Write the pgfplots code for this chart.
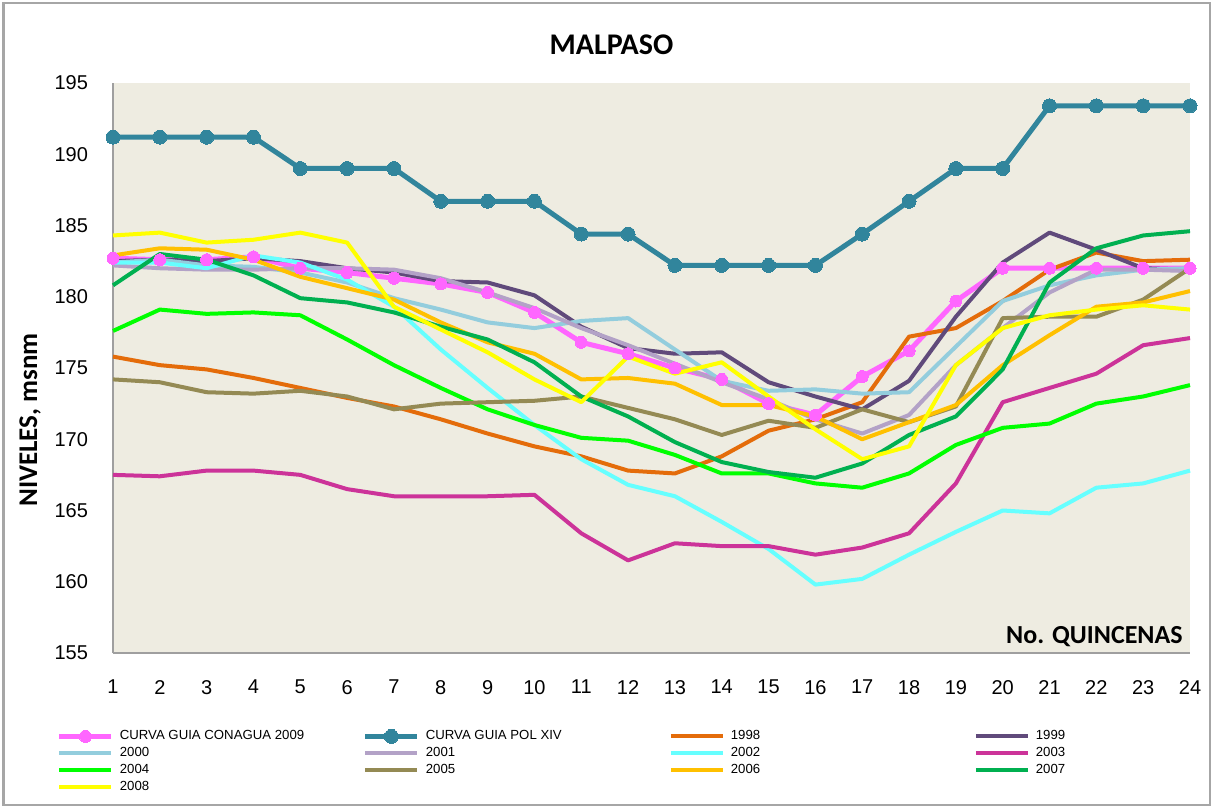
\documentclass[border=0pt]{standalone}
\usepackage{pgfplots}
\pgfplotsset{compat=1.18}
\usepackage{fontspec}
\setmainfont{Liberation Sans}
\newfontfamily\calibri{Carlito}
\definecolor{bgtan}{HTML}{EEECE1}
\definecolor{cpink}{HTML}{FF66FF}
\definecolor{cteal}{HTML}{31859C}
\definecolor{c98}{HTML}{E46C0A}
\definecolor{c99}{HTML}{604A7B}
\definecolor{c00}{HTML}{93CDDD}
\definecolor{c01}{HTML}{B3A2C7}
\definecolor{c02}{HTML}{66FFFF}
\definecolor{c03}{HTML}{CC3399}
\definecolor{c04}{HTML}{00FF00}
\definecolor{c05}{HTML}{948A54}
\definecolor{c06}{HTML}{FFC000}
\definecolor{c07}{HTML}{00B050}
\definecolor{c08}{HTML}{FFFF00}
\begin{document}
\begin{tikzpicture}
\useasboundingbox (0,0) rectangle (606.5pt,404pt);
\draw[gray!70, line width=1.2pt] (1.75pt,1.5pt) rectangle (605pt,402.5pt);
\node[font=\calibri\bfseries\fontsize{15}{18}\selectfont] at (305.75pt,381.5pt) {MALPASO};
\node[font=\calibri\bfseries\fontsize{13.5}{16}\selectfont, rotate=90] at (15pt,194pt) {NIVELES, msnm};
\begin{axis}[
  at={(56.5pt,77.5pt)}, anchor=south west,
  width=538.5pt, height=285pt, scale only axis,
  xmin=1, xmax=24, ymin=155, ymax=195,
  xtick={1,...,24}, ytick={155,160,...,195},
  axis x line*=bottom, axis y line*=left,
  axis line style={draw=gray!75, line width=0.8pt, -},
  major tick length=0pt,
  axis background/.style={fill=bgtan},
  tick label style={font=\fontsize{10}{12}\selectfont},
  /pgf/number format/assume math mode=true,
  xticklabel style={yshift=-10pt},
  yticklabel style={xshift=-9pt},
  clip=false,
  line join=round,
  every axis plot/.append style={line width=2pt},
  legend columns=4,
  legend cell align=left,
  legend style={at={(axis description cs:-0.0525,-0.1307)}, anchor=north west,
    draw=none, fill=none, inner sep=0pt, column sep=0pt,
    font=\fontsize{6.6}{7}\selectfont,
    nodes={inner sep=0pt, outer sep=0pt, minimum height=8.5pt, anchor=west},
    /tikz/every odd column/.style={column sep=3pt}},
  legend image code/.code={\draw[mark repeat=2,mark phase=2,#1] plot coordinates {(0pt,0pt) (13pt,0pt) (26pt,0pt)};},
]
\addplot[cpink, line width=2.5pt, mark=*, mark size=3pt, mark options={solid, fill=cpink, draw=cpink, line width=0pt}] coordinates {
(1,182.7)(2,182.6)(3,182.6)(4,182.8)(5,182.0)(6,181.7)(7,181.3)(8,180.9)(9,180.3)(10,178.9)(11,176.8)(12,176.0)(13,175.0)(14,174.2)(15,172.5)(16,171.7)(17,174.4)(18,176.2)(19,179.7)(20,182.0)(21,182.0)(22,182.0)(23,182.0)(24,182.0)};
\addlegendentry{\makebox[121.5pt][l]{CURVA GUIA CONAGUA 2009}}
\addplot[cteal, line width=2.5pt, mark=*, mark size=3.5pt, mark options={solid, fill=cteal, draw=cteal, line width=0pt}] coordinates {
(1,191.2)(2,191.2)(3,191.2)(4,191.2)(5,189.0)(6,189.0)(7,189.0)(8,186.7)(9,186.7)(10,186.7)(11,184.4)(12,184.4)(13,182.2)(14,182.2)(15,182.2)(16,182.2)(17,184.4)(18,186.7)(19,189.0)(20,189.0)(21,193.4)(22,193.4)(23,193.4)(24,193.4)};
\addlegendentry{\makebox[121.5pt][l]{CURVA GUIA POL XIV}}
\addplot[c98] coordinates {
(1,175.8)(2,175.2)(3,174.9)(4,174.3)(5,173.6)(6,172.9)(7,172.3)(8,171.4)(9,170.4)(10,169.5)(11,168.8)(12,167.8)(13,167.6)(14,168.8)(15,170.6)(16,171.4)(17,172.6)(18,177.2)(19,177.8)(20,179.7)(21,181.9)(22,183.1)(23,182.5)(24,182.6)};
\addlegendentry{\makebox[121.5pt][l]{1998}}
\addplot[c99] coordinates {
(1,182.5)(2,182.6)(3,182.5)(4,182.7)(5,182.5)(6,182.0)(7,181.7)(8,181.1)(9,181.0)(10,180.1)(11,177.9)(12,176.4)(13,176.0)(14,176.1)(15,174.0)(16,173.0)(17,172.1)(18,174.1)(19,178.6)(20,182.4)(21,184.5)(22,183.3)(23,182.0)(24,181.9)};
\addlegendentry{\makebox[121.5pt][l]{1999}}
\addplot[c00] coordinates {
(1,182.4)(2,182.6)(3,182.2)(4,182.1)(5,181.7)(6,181.0)(7,179.9)(8,179.1)(9,178.2)(10,177.8)(11,178.3)(12,178.5)(13,176.3)(14,174.1)(15,173.4)(16,173.5)(17,173.2)(18,173.3)(19,176.5)(20,179.7)(21,180.8)(22,181.5)(23,181.9)(24,182.0)};
\addlegendentry{\makebox[121.5pt][l]{2000}}
\addplot[c01] coordinates {
(1,182.2)(2,182.0)(3,181.9)(4,181.9)(5,182.0)(6,182.0)(7,181.9)(8,181.3)(9,180.3)(10,179.2)(11,177.8)(12,176.6)(13,175.3)(14,174.0)(15,172.8)(16,171.4)(17,170.4)(18,171.7)(19,175.2)(20,177.8)(21,180.3)(22,181.9)(23,181.9)(24,181.8)};
\addlegendentry{\makebox[121.5pt][l]{2001}}
\addplot[c02] coordinates {
(1,182.4)(2,182.4)(3,182.0)(4,182.9)(5,182.4)(6,181.2)(7,179.3)(8,176.3)(9,173.6)(10,171.0)(11,168.6)(12,166.8)(13,166.0)(14,164.2)(15,162.3)(16,159.8)(17,160.2)(18,161.9)(19,163.5)(20,165.0)(21,164.8)(22,166.6)(23,166.9)(24,167.8)};
\addlegendentry{\makebox[121.5pt][l]{2002}}
\addplot[c03] coordinates {
(1,167.5)(2,167.4)(3,167.8)(4,167.8)(5,167.5)(6,166.5)(7,166.0)(8,166.0)(9,166.0)(10,166.1)(11,163.4)(12,161.5)(13,162.7)(14,162.5)(15,162.5)(16,161.9)(17,162.4)(18,163.4)(19,166.9)(20,172.6)(21,173.6)(22,174.6)(23,176.6)(24,177.1)};
\addlegendentry{\makebox[121.5pt][l]{2003}}
\addplot[c04] coordinates {
(1,177.6)(2,179.1)(3,178.8)(4,178.9)(5,178.7)(6,177.0)(7,175.2)(8,173.6)(9,172.1)(10,171.0)(11,170.1)(12,169.9)(13,168.9)(14,167.6)(15,167.6)(16,166.9)(17,166.6)(18,167.6)(19,169.6)(20,170.8)(21,171.1)(22,172.5)(23,173.0)(24,173.8)};
\addlegendentry{\makebox[121.5pt][l]{2004}}
\addplot[c05] coordinates {
(1,174.2)(2,174.0)(3,173.3)(4,173.2)(5,173.4)(6,173.0)(7,172.1)(8,172.5)(9,172.6)(10,172.7)(11,173.0)(12,172.2)(13,171.4)(14,170.3)(15,171.3)(16,170.8)(17,172.1)(18,171.2)(19,172.3)(20,178.5)(21,178.6)(22,178.6)(23,179.8)(24,182.0)};
\addlegendentry{\makebox[121.5pt][l]{2005}}
\addplot[c06] coordinates {
(1,182.9)(2,183.4)(3,183.3)(4,182.6)(5,181.4)(6,180.6)(7,179.8)(8,178.2)(9,176.8)(10,176.0)(11,174.2)(12,174.3)(13,173.9)(14,172.4)(15,172.4)(16,171.6)(17,170.0)(18,171.2)(19,172.4)(20,175.2)(21,177.3)(22,179.3)(23,179.6)(24,180.4)};
\addlegendentry{\makebox[121.5pt][l]{2006}}
\addplot[c07] coordinates {
(1,180.8)(2,183.0)(3,182.6)(4,181.5)(5,179.9)(6,179.6)(7,178.9)(8,177.9)(9,177.0)(10,175.4)(11,173.0)(12,171.6)(13,169.8)(14,168.4)(15,167.7)(16,167.3)(17,168.3)(18,170.3)(19,171.6)(20,174.9)(21,181.0)(22,183.4)(23,184.3)(24,184.6)};
\addlegendentry{\makebox[121.5pt][l]{2007}}
\addplot[c08] coordinates {
(1,184.3)(2,184.5)(3,183.8)(4,184.0)(5,184.5)(6,183.8)(7,179.3)(8,177.7)(9,176.1)(10,174.2)(11,172.6)(12,175.8)(13,174.6)(14,175.4)(15,173.0)(16,170.7)(17,168.6)(18,169.5)(19,175.2)(20,177.8)(21,178.7)(22,179.1)(23,179.4)(24,179.1)};
\addlegendentry{\makebox[121.5pt][l]{2008}}
\node[font=\calibri\bfseries\fontsize{13}{15}\selectfont, anchor=base east, inner sep=0pt] at (rel axis cs:0.9935,0.0175) {No. QUINCENAS};
\end{axis}
\end{tikzpicture}
\end{document}
